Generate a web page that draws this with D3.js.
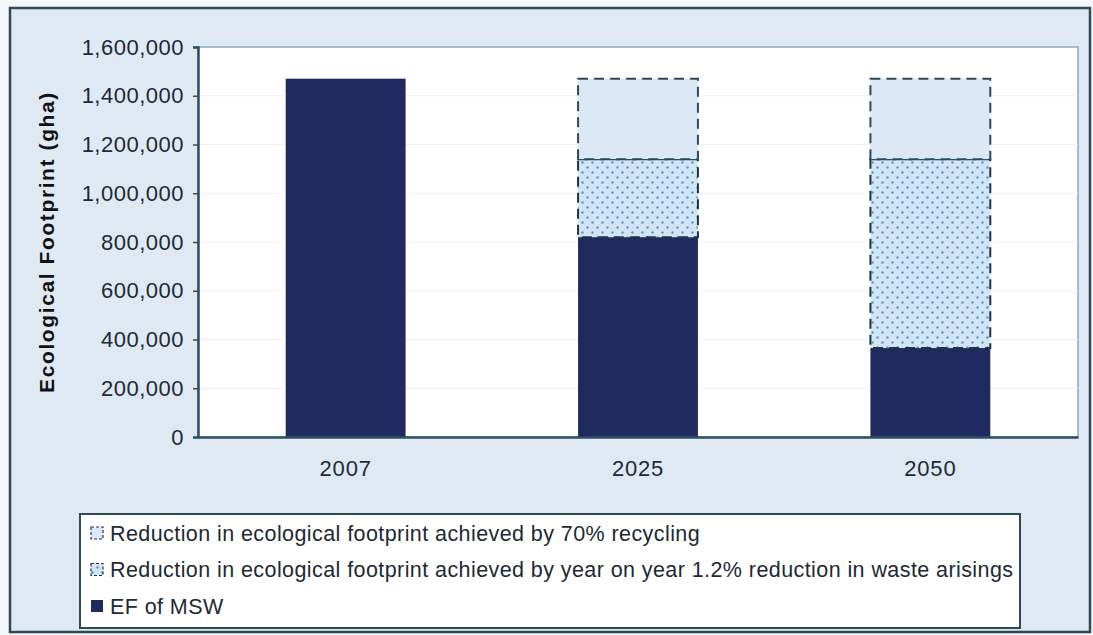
<!DOCTYPE html>
<html>
<head>
<meta charset="UTF-8" />
<script src="https://d3js.org/d3.v7.min.js"></script>
<style>
body { margin: 0px; background: #fff; }
svg { display: block; font-family: "Liberation Sans", Arial, sans-serif; }
</style>
</head>
<body>
<svg id="chart" width="1093" height="635"></svg>
<script>
// data
const years = ["2007", "2025", "2050"];
const efMSW = [1470000, 820000, 365000];
const reductionWaste = [0, 320000, 775000];
const reductionRecycling = [0, 330000, 330000];
const yTicks = [0, 200000, 400000, 600000, 800000, 1000000, 1200000, 1400000, 1600000];
const legendLabels = [
    "Reduction in ecological footprint achieved by 70% recycling",
    "Reduction in ecological footprint achieved by year on year 1.2% reduction in waste arisings",
    "EF of MSW"
];

let svg = d3.select("#chart");
let width = 1093, height = 635;

let defs = svg.append("defs");
let pat = defs.append("pattern")
    .attr("id", "dots")
    .attr("width", 10).attr("height", 10)
    .attr("patternUnits", "userSpaceOnUse");
pat.append("rect").attr("width", 10).attr("height", 10).attr("fill", "#d3e5f5");
pat.append("circle").attr("cx", 2.5).attr("cy", 2.5).attr("r", 1.2).attr("fill", "#4a9ad6");
pat.append("circle").attr("cx", 7.5).attr("cy", 7.5).attr("r", 1.2).attr("fill", "#4a9ad6");

// outer frame
svg.append("rect").attr("x", 0).attr("y", 0).attr("width", width).attr("height", height).attr("fill", "#f3f6fa");
svg.append("rect").attr("x", 10).attr("y", 8).attr("width", 1080).attr("height", 624)
    .attr("fill", "#dfe9f4").attr("stroke", "#2d4a55").attr("stroke-width", 2.5);

let margin = {left: 198, top: 47, right: 1078, bottom: 437};

let x = d3.scaleBand().domain(years).range([margin.left, margin.right]).paddingInner(0.59).paddingOuter(0.3);
let y = d3.scaleLinear().domain([0, 1600000]).range([margin.bottom, margin.top]);

// plot area
svg.append("rect").attr("x", margin.left).attr("y", margin.top)
    .attr("width", margin.right - margin.left).attr("height", margin.bottom - margin.top)
    .attr("fill", "#ffffff").attr("stroke", "#8fa6b8").attr("stroke-width", 1.5);

// faint gridlines
svg.append("g").selectAll("line").data(yTicks.slice(1, -1)).join("line")
    .attr("x1", margin.left).attr("x2", margin.right)
    .attr("y1", d => y(d)).attr("y2", d => y(d))
    .attr("stroke", "#edf2f7").attr("stroke-width", 1);

// stacked bars
let stack = years.map((yr, i) => ({
    year: yr,
    ef: efMSW[i],
    waste: reductionWaste[i],
    rec: reductionRecycling[i]
}));

let bars = svg.append("g");
stack.forEach(d => {
    let bx = x(d.year), bw = x.bandwidth();
    bars.append("rect").attr("x", bx).attr("width", bw)
        .attr("y", y(d.ef)).attr("height", y(0) - y(d.ef))
        .attr("fill", "#1f2a5e");
    if (d.waste > 0) {
        bars.append("rect").attr("x", bx).attr("width", bw)
            .attr("y", y(d.ef + d.waste)).attr("height", y(d.ef) - y(d.ef + d.waste))
            .attr("fill", "url(#dots)").attr("stroke", "#1e3548")
            .attr("stroke-width", 2).attr("stroke-dasharray", "10,6");
    }
    if (d.rec > 0) {
        let top = d.ef + d.waste + d.rec;
        bars.append("rect").attr("x", bx).attr("width", bw)
            .attr("y", y(top)).attr("height", y(d.ef + d.waste) - y(top))
            .attr("fill", "#dce8f5").attr("stroke", "#2a4a62")
            .attr("stroke-width", 2).attr("stroke-dasharray", "10,6");
    }
});

// axes
let yAxis = d3.axisLeft(y).tickValues(yTicks).tickSize(5).tickFormat(d3.format(","));
let gy = svg.append("g").attr("transform", `translate(${margin.left},0)`).call(yAxis);
gy.select(".domain").attr("stroke", "#2f4f62").attr("stroke-width", 2.5);
gy.selectAll(".tick line").attr("stroke", "#2f4f62").attr("stroke-width", 1.5);
gy.selectAll(".tick text").attr("font-size", 22).attr("letter-spacing", 0.5)
    .attr("fill", "#1d2a33").attr("x", -14).attr("font-family", "Liberation Sans, Arial, sans-serif");

let xAxis = d3.axisBottom(x).tickSize(0);
let gx = svg.append("g").attr("transform", `translate(0,${margin.bottom})`).call(xAxis);
gx.select(".domain").attr("stroke", "#2f4f62").attr("stroke-width", 2.5);
gx.selectAll(".tick text").attr("font-size", 22).attr("letter-spacing", 0.8)
    .attr("fill", "#1d2a33").attr("dy", "1.65em").attr("font-family", "Liberation Sans, Arial, sans-serif");

svg.append("text")
    .attr("transform", `translate(54,${(margin.top + margin.bottom) / 2}) rotate(-90)`)
    .attr("text-anchor", "middle")
    .attr("font-size", 21).attr("font-weight", "bold").attr("letter-spacing", 1.6).attr("fill", "#111")
    .text("Ecological Footprint (gha)");

// legend
let lg = svg.append("g");
lg.append("rect").attr("x", 80).attr("y", 514).attr("width", 940).attr("height", 114)
    .attr("fill", "#ffffff").attr("stroke", "#2d4a55").attr("stroke-width", 2);

let swatchFill = ["#dce8f5", "url(#dots)", "#1f2a5e"];
legendLabels.forEach((label, i) => {
    let ly = 533 + i * 36.5;
    let sw = lg.append("rect").attr("x", 91).attr("y", ly - 6).attr("width", 12).attr("height", 12)
        .attr("fill", swatchFill[i]);
    if (i < 2) sw.attr("stroke", "#1e3548").attr("stroke-width", 1.2).attr("stroke-dasharray", "3,2");
    lg.append("text").attr("x", 110).attr("y", ly).attr("dy", "0.35em")
        .attr("font-size", 21.5).attr("letter-spacing", 0.42).attr("fill", "#1d2a33")
        .text(label);
});
</script>
</body>
</html>
